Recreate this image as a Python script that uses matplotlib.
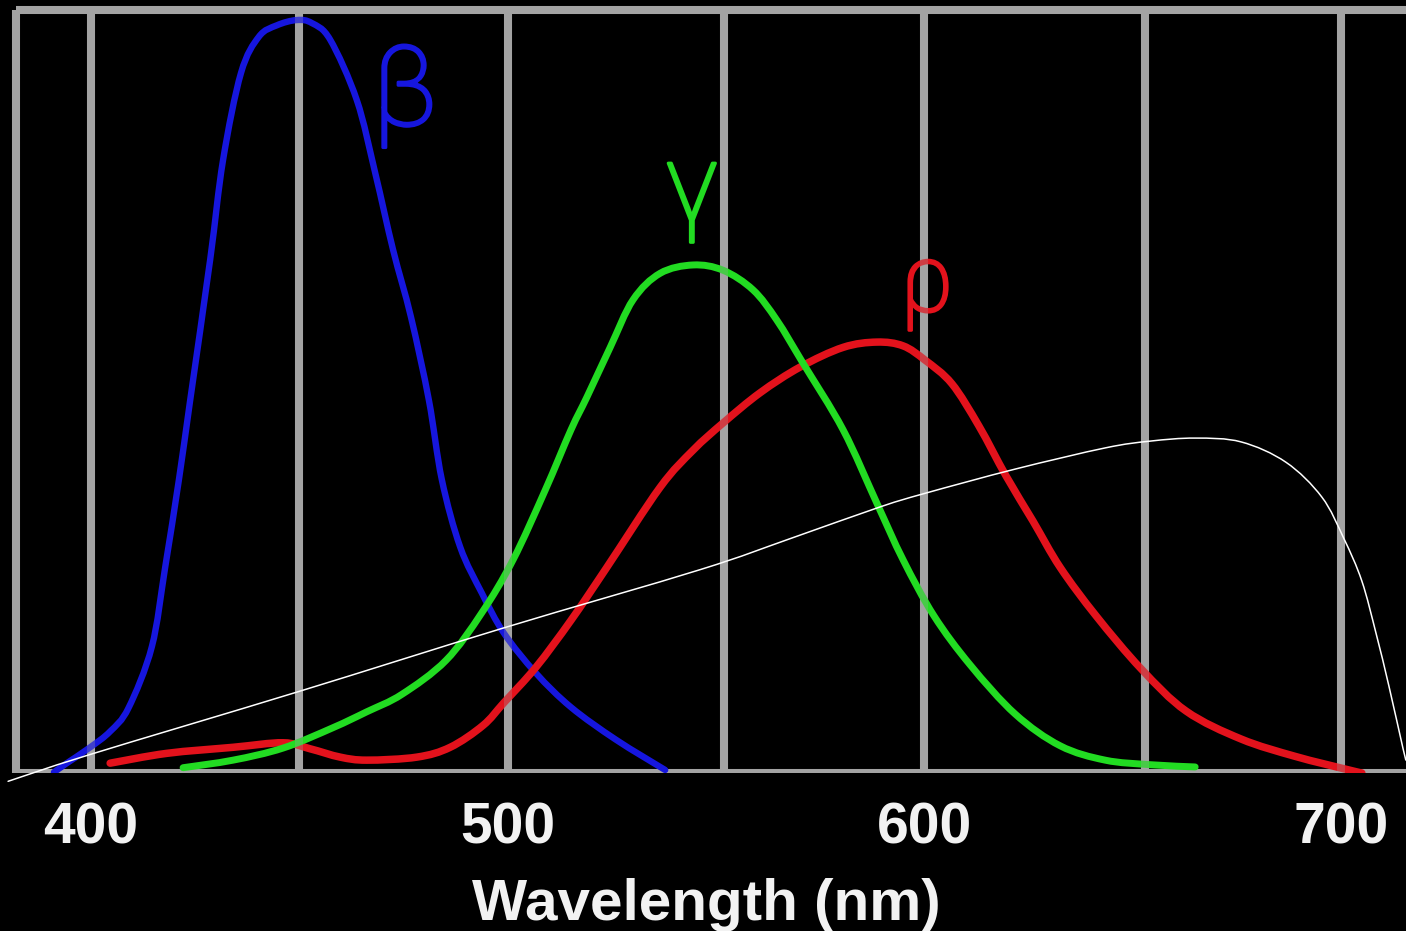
import matplotlib
matplotlib.use("Agg")
import matplotlib.pyplot as plt
from matplotlib.path import Path
from matplotlib.patches import PathPatch
import matplotlib.patheffects as pe

# ---- data (wavelength in nm, relative sensitivity in %) ----
blue_nm = [391.1, 394.2, 399.8, 404.6, 409.0, 414.6, 417.8, 421.1, 423.8, 428.6,
           431.7, 436.0, 440.3, 444.6, 449.4, 453.0, 457.4, 463.8, 468.2, 472.5, 476.8,
           481.1, 484.2, 488.6, 493.8, 499.1, 506.8, 515.2, 526.0, 537.8]
blue_val = [0.1, 1.3, 3.4, 5.5, 8.6, 16.7, 27.2, 38.8, 49.3, 67.9,
            81.1, 92.6, 97.4, 98.9, 99.6, 99.2, 97.0, 89.0, 79.4, 69.2, 60.3,
            49.3, 38.8, 29.9, 23.8, 18.5, 13.2, 8.7, 4.4, 0.4]

green_nm = [422.1, 434.1, 446.1, 458.1, 466.2, 474.6, 485.2, 493.8, 501.3, 509.0,
            515.2, 519.0, 524.6, 530.1, 536.6, 544.5, 551.7, 558.9, 564.6, 570.9, 580.5,
            588.6, 594.9, 602.3, 611.0, 621.8, 632.6, 643.4, 654.2, 665.0]
green_val = [0.7, 1.7, 3.3, 6.0, 8.1, 10.4, 14.9, 21.2, 28.2, 37.4,
             45.4, 49.7, 56.3, 62.6, 66.1, 67.2, 66.5, 63.9, 59.9, 54.2, 45.4,
             35.7, 28.2, 20.8, 14.3, 7.8, 3.6, 1.7, 1.1, 0.8]

red_nm = [404.6, 418.2, 434.1, 446.1, 452.6, 459.8, 466.2, 478.2, 486.2, 494.1, 499.1,
          506.8, 515.2, 523.8, 536.6, 544.5, 551.7, 560.6, 570.2, 580.5, 588.6, 594.9,
          600.2, 606.6, 613.1, 619.6, 626.1, 632.6, 641.2, 652.0, 662.8, 676.0, 689.0,
          701.9, 705.0]
red_val = [1.3, 2.6, 3.4, 4.0, 3.2, 2.1, 1.7, 2.1, 3.4, 6.3, 9.3,
           14.0, 20.2, 27.2, 37.8, 42.7, 46.3, 50.3, 53.7, 56.3, 57.0, 56.5,
           54.6, 51.5, 45.9, 39.3, 33.3, 27.2, 20.8, 13.8, 8.2, 4.5, 2.2,
           0.4, 0.0]

white_nm = [380.1, 399.5, 449.4, 499.1, 546.2, 567.8, 589.4, 600.2, 621.8, 643.4, 654.2,
            665.0, 676.0, 686.8, 695.4, 700.7, 705.0, 708.4, 711.5, 714.9, 715.6]
white_val = [-1.1, 2.4, 10.7, 19.2, 26.9, 31.0, 35.2, 37.0, 40.2, 43.0, 43.9,
             44.3, 43.8, 41.1, 36.5, 31.0, 25.4, 18.5, 11.5, 3.2, 1.7]

tick_nm = [400, 500, 600, 700]
tick_labels = ["400", "500", "600", "700"]
grid_nm = [400, 450, 500, 552, 600, 653, 700]
frame_left_nm = 381.9
frame_top_val = 100.9


def smooth_path(xs, ys):
    """Catmull-Rom curve through the given points, as cubic Bezier segments."""
    pts = list(zip(xs, ys))
    n = len(pts)
    verts = [pts[0]]
    codes = [Path.MOVETO]
    for i in range(n - 1):
        p0 = pts[i - 1] if i > 0 else pts[i]
        p1 = pts[i]
        p2 = pts[i + 1]
        p3 = pts[i + 2] if i + 2 < n else pts[i + 1]
        c1 = (p1[0] + (p2[0] - p0[0]) / 6.0, p1[1] + (p2[1] - p0[1]) / 6.0)
        c2 = (p2[0] - (p3[0] - p1[0]) / 6.0, p2[1] - (p3[1] - p1[1]) / 6.0)
        verts += [c1, c2, p2]
        codes += [Path.CURVE4] * 3
    return Path(verts, codes)


def draw_curve(ax, xs, ys, color, lw, z, clip=True):
    patch = PathPatch(smooth_path(xs, ys), facecolor="none", edgecolor=color,
                      linewidth=lw, capstyle="round", joinstyle="round", zorder=z)
    patch.set_clip_on(clip)
    ax.add_patch(patch)


# ---- figure ----
W, H, DPI = 1406, 931, 100
fig = plt.figure(figsize=(W / DPI, H / DPI), dpi=DPI, facecolor="black")
ax = fig.add_axes([0, (H - 773) / H, 1, 773 / H])
ax.set_facecolor("black")
ax.set_xlim(378.16, 715.6)
ax.set_ylim(0, 102.25)
for s in ax.spines.values():
    s.set_visible(False)
ax.set_yticks([])

gray = "#a3a3a3"
gw = 5.8
# frame + grid (opaque, below curves)
ax.vlines(grid_nm, 0, frame_top_val, colors=gray, linewidth=gw, zorder=1)
ax.vlines([frame_left_nm], 0, frame_top_val, colors=gray, linewidth=gw, zorder=1)
ax.hlines([0, frame_top_val], frame_left_nm, 715.6, colors=gray, linewidth=gw, zorder=1)
# faint overlay of grid above the curves
ax.vlines(grid_nm, 0, frame_top_val, colors=gray, linewidth=gw, alpha=0.3, zorder=4)

blue_c, green_c, red_c = "#1616de", "#22dc22", "#e3121c"
draw_curve(ax, blue_nm, blue_val, blue_c, 4.6, 3)
draw_curve(ax, red_nm, red_val, red_c, 5.4, 3)
draw_curve(ax, green_nm, green_val, green_c, 5.0, 3)
draw_curve(ax, white_nm, white_val, "white", 1.1, 5, clip=False)

# greek labels
gfam = ["Roboto", "DejaVu Sans"]
for xx, yy, ch, col, fs in [(475.4, 85.7, "β", blue_c, 80),
                            (544.2, 73.1, "γ", green_c, 78),
                            (600.6, 61.1, "ρ", red_c, 68)]:
    t = ax.text(xx, yy, ch, color=col, fontsize=fs, family=gfam, weight="light",
                ha="center", va="baseline", zorder=3)
    t.set_path_effects([pe.withStroke(linewidth=2.2, foreground=col)])

# ticks
ax.set_xticks(tick_nm)
ax.set_xticklabels(tick_labels)
ax.tick_params(axis="x", length=0, pad=50.4, colors="#f2f2f2")
for lbl in ax.get_xticklabels():
    lbl.set_fontfamily("Liberation Sans")
    lbl.set_fontweight("bold")
    lbl.set_fontsize(41)
    lbl.set_va("baseline")
ax.set_xlabel("Wavelength (nm)", fontsize=42, fontweight="bold",
              family="Liberation Sans", color="#f2f2f2", va="baseline")
ax.xaxis.set_label_coords(706.5 / W, (773 - 920) / 773)

fig.savefig("out.png", dpi=DPI, facecolor="black")
